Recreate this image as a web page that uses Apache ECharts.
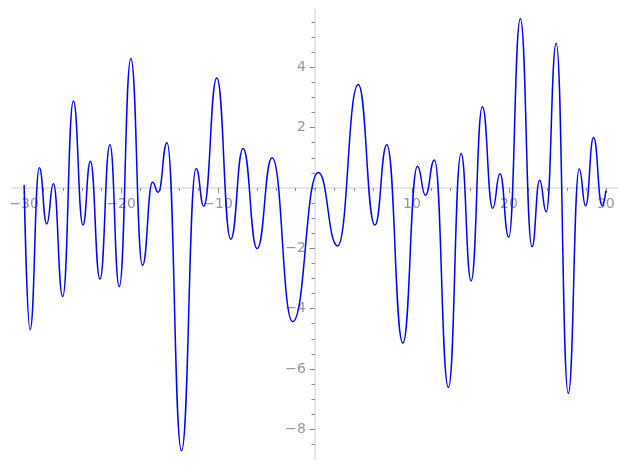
<!DOCTYPE html>
<html><head><meta charset="utf-8">
<script src="https://cdn.jsdelivr.net/npm/echarts@6/dist/echarts.min.js"></script>
<style>html,body{margin:0;padding:0;background:#fff}#c{width:627px;height:470px}</style>
</head><body><div id="c"></div>
<script>
// Curve: turning points (x, y)
const xVals = [-30, -29.39, -28.43, -27.67, -26.98, -26.02, -24.92, -23.93, -23.17, -22.18, -21.15, -20.19, -18.99, -17.79, -16.76, -16.17, -15.26, -13.77, -12.26, -11.47, -10.13, -8.69, -7.42, -5.97, -4.43, -2.31, 0.34, 2.33, 4.46, 6.18, 7.41, 9.06, 10.57, 11.39, 12.32, 13.76, 15.07, 16.1, 17.26, 18.33, 19.08, 19.98, 21.18, 22.38, 23.17, 23.85, 24.88, 26.12, 27.25, 27.91, 28.73, 29.62, 30];
const yVals = [0.1, -4.70, 0.67, -1.19, 0.14, -3.60, 2.88, -1.23, 0.89, -3.02, 1.43, -3.27, 4.29, -2.57, 0.19, -0.14, 1.50, -8.71, 0.65, -0.60, 3.65, -1.70, 1.31, -2.01, 1.00, -4.43, 0.51, -1.92, 3.43, -1.23, 1.43, -5.14, 0.72, -0.24, 0.93, -6.61, 1.14, -3.08, 2.69, -0.67, 0.47, -1.63, 5.61, -1.95, 0.26, -0.79, 4.80, -6.81, 0.63, -0.59, 1.67, -0.59, -0.09];

const xLabelTicks = [-30, -20, -10, 10, 20, 30];
const xMinorTicks = [-30, -28, -26, -24, -22, -20, -18, -16, -14, -12, -10, -8, -6, -4, -2, 0, 2, 4, 6, 8, 10, 12, 14, 16, 18, 20, 22, 24, 26, 28, 30];
const yLabelTicks = [-8, -6, -4, -2, 2, 4];
const yMinorTicks = [-8.5, -8, -7.5, -7, -6.5, -6, -5.5, -5, -4.5, -4, -3.5, -3, -2.5, -2, -1.5, -1, -0.5, 0, 0.5, 1, 1.5, 2, 2.5, 3, 3.5, 4, 4.5, 5, 5.5];

const fmt = v => (v < 0 ? '\u2212' + Math.abs(v) : String(v));
const labelColor = '#7a7a7a', tickColor = '#8a8a8a', lineColor = '#e6e6e6';
const font = 'DejaVu Sans';
const fontSize = 14;

const chart = echarts.init(document.getElementById('c'), null, {renderer: 'canvas'});
const xr = {min: -31.2, max: 31.2}, yr = {min: -9.0, max: 5.9};
const labelSeries = (pts, pos, dist) => ({
  type: 'scatter', silent: true, clip: false, z: 4,
  data: pts, symbolSize: 0, itemStyle: {color: 'rgba(0,0,0,0)'},
  label: {show: true, position: pos, distance: dist, color: labelColor, fontSize: fontSize, fontFamily: font,
          formatter: p => fmt(pos === 'bottom' ? p.value[0] : p.value[1])}
});
chart.setOption({
  animation: false,
  grid: {left: 12.5, right: 9.5, top: 10, bottom: 10.5, containLabel: false, outerBoundsMode: 'none'},
  xAxis: [
    {type: 'value', position: 'bottom', min: xr.min, max: xr.max,
     axisLine: {show: true, onZero: true, onZeroAxisIndex: 0, lineStyle: {color: lineColor, width: 2}},
     axisTick: {show: true, customValues: xMinorTicks, length: 3, lineStyle: {color: tickColor, width: 1}},
     axisLabel: {show: false}, splitLine: {show: false}},
    {type: 'value', position: 'bottom', min: xr.min, max: xr.max,
     axisLine: {show: false, onZero: true, onZeroAxisIndex: 0},
     axisTick: {show: true, customValues: xLabelTicks, length: 5, lineStyle: {color: tickColor, width: 1}},
     axisLabel: {show: false}, splitLine: {show: false}}
  ],
  yAxis: [
    {type: 'value', position: 'left', min: yr.min, max: yr.max,
     axisLine: {show: true, onZero: true, onZeroAxisIndex: 0, lineStyle: {color: lineColor, width: 2}},
     axisTick: {show: true, customValues: yMinorTicks, length: 3.5, lineStyle: {color: tickColor, width: 1}},
     axisLabel: {show: false}, splitLine: {show: false}},
    {type: 'value', position: 'left', min: yr.min, max: yr.max,
     axisLine: {show: false, onZero: true, onZeroAxisIndex: 0},
     axisTick: {show: true, customValues: yLabelTicks, length: 5.5, lineStyle: {color: tickColor, width: 1}},
     axisLabel: {show: false}, splitLine: {show: false}}
  ],
  series: [
    labelSeries(xLabelTicks.map(v => [v, 0]), 'bottom', 9),
    labelSeries(yLabelTicks.map(v => [0, v]), 'left', 9),
    {
      type: 'line', xAxisIndex: 0, yAxisIndex: 0,
      data: xVals.map((x, i) => [x, yVals[i]]),
      showSymbol: false, symbol: 'none',
      smooth: 0.5, smoothMonotone: 'x',
      lineStyle: {color: '#0000ff', width: 1.5},
      clip: false, z: 5
    }
  ]
});
</script></body></html>
